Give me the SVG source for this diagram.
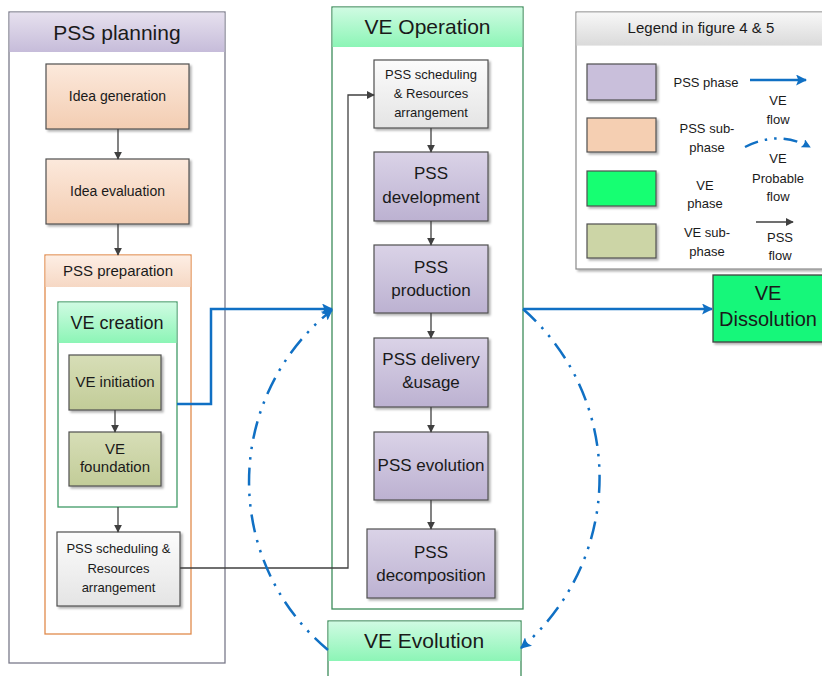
<svg xmlns="http://www.w3.org/2000/svg" width="822" height="676" viewBox="0 0 822 676">
<defs>
<linearGradient id="gPurple" x1="0" y1="0" x2="0" y2="1"><stop offset="0" stop-color="#dad3e7"/><stop offset="1" stop-color="#bcb1d1"/></linearGradient>
<linearGradient id="gPurpleHead" x1="0" y1="0" x2="0" y2="1"><stop offset="0" stop-color="#e6e0ee"/><stop offset="1" stop-color="#c6bcda"/></linearGradient>
<linearGradient id="gOrange" x1="0" y1="0" x2="0" y2="1"><stop offset="0" stop-color="#fce9dc"/><stop offset="1" stop-color="#f3cdb2"/></linearGradient>
<linearGradient id="gOrangeHead" x1="0" y1="0" x2="0" y2="1"><stop offset="0" stop-color="#fdeee4"/><stop offset="1" stop-color="#f6d8c4"/></linearGradient>
<linearGradient id="gGreenHead" x1="0" y1="0" x2="0" y2="1"><stop offset="0" stop-color="#cffbe2"/><stop offset="1" stop-color="#8cf5b6"/></linearGradient>
<linearGradient id="gOlive" x1="0" y1="0" x2="0" y2="1"><stop offset="0" stop-color="#d7deb7"/><stop offset="1" stop-color="#c2cc98"/></linearGradient>
<linearGradient id="gGray" x1="0" y1="0" x2="0" y2="1"><stop offset="0" stop-color="#fcfcfc"/><stop offset="1" stop-color="#e4e4e4"/></linearGradient>
<linearGradient id="gLegHead" x1="0" y1="0" x2="0" y2="1"><stop offset="0" stop-color="#f7f7f7"/><stop offset="1" stop-color="#dadada"/></linearGradient>
<filter id="sh" x="-10%" y="-10%" width="130%" height="130%"><feDropShadow dx="2" dy="2" stdDeviation="1.2" flood-color="#000" flood-opacity="0.3"/></filter>
<marker id="arrG" viewBox="0 0 10 10" refX="9" refY="5" markerWidth="8" markerHeight="8" markerUnits="userSpaceOnUse" orient="auto"><path d="M0,0 L10,5 L0,10 z" fill="#404040"/></marker>
<marker id="arrB" viewBox="0 0 10 10" refX="9" refY="5" markerWidth="11" markerHeight="11" markerUnits="userSpaceOnUse" orient="auto"><path d="M0,0 L10,5 L0,10 L2,5 z" fill="#1070c4"/></marker>
<marker id="arrBs" viewBox="0 0 10 10" refX="9" refY="5" markerWidth="9" markerHeight="9" markerUnits="userSpaceOnUse" orient="auto"><path d="M0,0 L10,5 L0,10 L2,5 z" fill="#1070c4"/></marker>
</defs>
<style>
text{font-family:"Liberation Sans",Arial,sans-serif;fill:#1a1a1a;text-anchor:middle}
.t14{font-size:14px}.t13{font-size:13px}.t15{font-size:15px}.t17{font-size:17px}.t18{font-size:18px}.t20{font-size:20px}.t21{font-size:21px}
.box{stroke:#505050;stroke-width:1.2}
.pss{fill:url(#gPurple)}
.sub{fill:url(#gOrange)}
.ves{fill:url(#gOlive)}
.sch{fill:url(#gGray)}
.pf{fill:none;stroke:#404040;stroke-width:1.3}
.vf{fill:none;stroke:#1070c4;stroke-width:2.5}
.pf2{fill:none;stroke:#1070c4;stroke-width:2.5;stroke-dasharray:18 8 2.5 8 2.5 8}
</style>

<g id="pss-planning">
<rect x="9" y="12" width="216" height="651" fill="#fff" stroke="#7a7a8a" stroke-width="1.3"/>
<rect x="9.6" y="12.6" width="214.8" height="39.4" fill="url(#gPurpleHead)"/>
<text class="t21" x="117" y="40">PSS planning</text>
</g>
<g id="idea-generation">
<rect class="box sub" x="46" y="64" width="143" height="65" filter="url(#sh)"/>
<text class="t14" x="117.5" y="101">Idea generation</text>
</g>
<g id="idea-evaluation">
<rect class="box sub" x="46" y="159" width="143" height="65" filter="url(#sh)"/>
<text class="t14" x="117.5" y="196">Idea evaluation</text>
</g>
<g id="pss-preparation">
<rect x="45" y="255" width="146" height="379" fill="#fff" stroke="#e08a4c" stroke-width="1.3"/>
<rect x="45.6" y="255.6" width="144.8" height="31.4" fill="url(#gOrangeHead)"/>
<text class="t15" x="118" y="276">PSS preparation</text>
</g>
<g id="ve-creation">
<rect x="58" y="302" width="119" height="205" fill="#fff" stroke="#3f9a66" stroke-width="1.3"/>
<rect x="58.6" y="302.6" width="117.8" height="40.4" fill="url(#gGreenHead)"/>
<text class="t18" x="117" y="329">VE creation</text>
</g>
<g id="ve-initiation">
<rect class="box ves" x="69" y="355" width="92" height="55" filter="url(#sh)"/>
<text class="t15" x="115" y="387">VE initiation</text>
</g>
<g id="ve-foundation">
<rect class="box ves" x="69" y="432" width="92" height="54" filter="url(#sh)"/>
<text class="t15" x="115" y="454">VE</text>
<text class="t15" x="115" y="472">foundation</text>
</g>
<g id="pss-scheduling-1">
<rect class="box sch" x="57" y="532" width="123" height="74" filter="url(#sh)"/>
<text class="t13" x="118.5" y="553">PSS scheduling &amp;</text>
<text class="t13" x="118.5" y="573">Resources</text>
<text class="t13" x="118.5" y="592">arrangement</text>
</g>

<g id="ve-operation">
<rect x="332" y="7" width="191" height="602" fill="#fff" stroke="#3c8c5a" stroke-width="1.3"/>
<rect x="332.6" y="7.6" width="189.8" height="39.4" fill="url(#gGreenHead)"/>
<text class="t21" x="427.5" y="34">VE Operation</text>
</g>
<g id="pss-scheduling-2">
<rect class="box sch" x="374" y="60" width="114" height="68" filter="url(#sh)"/>
<text class="t13" x="431" y="79">PSS scheduling</text>
<text class="t13" x="431" y="98">&amp; Resources</text>
<text class="t13" x="431" y="117">arrangement</text>
</g>
<g id="pss-development">
<rect class="box pss" x="374" y="152" width="114" height="69" filter="url(#sh)"/>
<text class="t17" x="431" y="179">PSS</text>
<text class="t17" x="431" y="203">development</text>
</g>
<g id="pss-production">
<rect class="box pss" x="374" y="245" width="114" height="68" filter="url(#sh)"/>
<text class="t17" x="431" y="273">PSS</text>
<text class="t17" x="431" y="296">production</text>
</g>
<g id="pss-delivery">
<rect class="box pss" x="374" y="338" width="114" height="69" filter="url(#sh)"/>
<text class="t17" x="431" y="365">PSS delivery</text>
<text class="t17" x="431" y="388">&amp;usage</text>
</g>
<g id="pss-evolution">
<rect class="box pss" x="374" y="432" width="114" height="68" filter="url(#sh)"/>
<text class="t17" x="431" y="471">PSS evolution</text>
</g>
<g id="pss-decomposition">
<rect class="box pss" x="367" y="529" width="128" height="69" filter="url(#sh)"/>
<text class="t17" x="431" y="558">PSS</text>
<text class="t17" x="431" y="581">decomposition</text>
</g>

<g id="ve-evolution">
<rect x="328" y="621" width="193" height="70" fill="#fff" stroke="#3c8c5a" stroke-width="1.3"/>
<rect x="328.6" y="621.6" width="191.8" height="39.4" fill="url(#gGreenHead)"/>
<text class="t21" x="424" y="648">VE Evolution</text>
</g>
<g id="ve-dissolution">
<rect x="713" y="275" width="115" height="67" fill="#17f77a" stroke="#404040" stroke-width="1.3" filter="url(#sh)"/>
<text class="t20" x="768" y="300">VE</text>
<text class="t20" x="768" y="326">Dissolution</text>
</g>

<g id="legend">
<rect x="576" y="12" width="250" height="257" fill="#fff" stroke="#8a8a8a" stroke-width="1.2" filter="url(#sh)"/>
<rect x="576.6" y="12.6" width="249" height="33" fill="url(#gLegHead)"/>
<text class="t15" x="701" y="33">Legend in figure 4 &amp; 5</text>
<rect class="box" x="587" y="64" width="69" height="36" fill="#c9bfdb" filter="url(#sh)"/>
<rect class="box" x="587" y="118" width="69" height="34" fill="#f5cfb2" filter="url(#sh)"/>
<rect class="box" x="587" y="171" width="69" height="35" fill="#12ff72" filter="url(#sh)"/>
<rect class="box" x="587" y="224" width="69" height="34" fill="#ccd5a6" filter="url(#sh)"/>
<text class="t13" x="706" y="87">PSS phase</text>
<text class="t13" x="707" y="133">PSS sub-</text>
<text class="t13" x="707" y="152">phase</text>
<text class="t13" x="705" y="190">VE</text>
<text class="t13" x="705" y="208">phase</text>
<text class="t13" x="707" y="237">VE sub-</text>
<text class="t13" x="707" y="256">phase</text>
<path class="vf" d="M750 80 H806" marker-end="url(#arrB)"/>
<text class="t13" x="778" y="105">VE</text>
<text class="t13" x="778" y="124">flow</text>
<path class="pf2" d="M745 147 Q778 130 810 147" marker-end="url(#arrBs)" style="stroke-dasharray:14 7 2.5 7 2.5 7"/>
<text class="t13" x="778" y="163">VE</text>
<text class="t13" x="778" y="183">Probable</text>
<text class="t13" x="778" y="201">flow</text>
<path class="pf" d="M756 222 H793" marker-end="url(#arrG)"/>
<text class="t13" x="780" y="242">PSS</text>
<text class="t13" x="780" y="260">flow</text>
</g>

<g id="connectors">
<path class="pf" d="M118 129 V159" marker-end="url(#arrG)"/>
<path class="pf" d="M118 224 V255" marker-end="url(#arrG)"/>
<path class="pf" d="M115 410 V432" marker-end="url(#arrG)"/>
<path class="pf" d="M118 507 V532" marker-end="url(#arrG)"/>
<path class="pf" d="M180 568 H348 V95 H374" marker-end="url(#arrG)"/>
<path class="pf" d="M431 128 V152" marker-end="url(#arrG)"/>
<path class="pf" d="M431 221 V245" marker-end="url(#arrG)"/>
<path class="pf" d="M431 313 V338" marker-end="url(#arrG)"/>
<path class="pf" d="M431 407 V432" marker-end="url(#arrG)"/>
<path class="pf" d="M431 500 V529" marker-end="url(#arrG)"/>
<path class="vf" d="M177 404 H211 V309 H332" marker-end="url(#arrB)"/>
<path class="vf" d="M523 309 H712" marker-end="url(#arrB)"/>
<path class="pf2" d="M328 650 A219 219 0 0 1 332 310" marker-end="url(#arrB)"/>
<path class="pf2" d="M523 309 A224 224 0 0 1 521 648" marker-end="url(#arrB)"/>
</g>
</svg>
